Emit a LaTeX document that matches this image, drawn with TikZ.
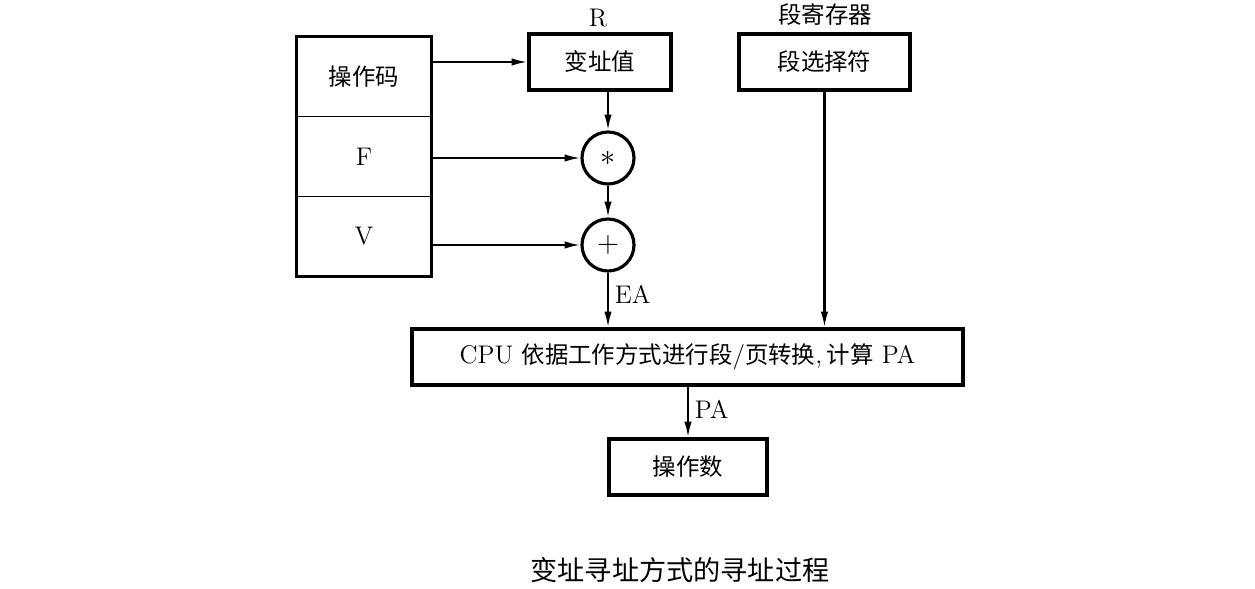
\documentclass[tikz,border=0pt]{standalone}
\usepackage{fontspec}
\newfontfamily\cjk[Scale=0.92]{Noto Sans CJK SC}
\usetikzlibrary{arrows,arrows.meta}

\begin{document}
\begin{tikzpicture}[
box/.style={draw,line width=1.8pt,minimum height=1.12cm,font=\fontsize{14.5}{16}\selectfont},
cell/.style={draw,line width=0.8pt,minimum width=2.68cm,minimum height=1.593cm,font=\fontsize{14.5}{16}\selectfont},
op/.style={draw,circle,line width=1.8pt,minimum size=1.04cm,inner sep=0pt,font=\fontsize{19}{21}\selectfont},
arrowlabel/.style={font=\fontsize{14.5}{16}\selectfont},
arrow/.style={-{Latex[length=9pt,width=4.2pt]},line width=1.2pt} ]

\useasboundingbox (0,0) rectangle (25.1,11.78);

\node[cell] (Op) at (7.28,10.243) {\cjk 操作码};

\node[cell] (F) at (7.28,8.65) {F};

\node[cell] (V) at (7.28,7.057) {V};

\draw[line width=1.8pt] (Op.north west) rectangle (V.south east);

\node[box,minimum width=2.84cm] (Idx) at (12.0,10.54) {\cjk 变址值};

\node[arrowlabel] (RLab) at (11.96,11.42) {R};

\node[box,minimum width=3.42cm] (Sel) at (16.49,10.54) {\cjk 段选择符};

\node[arrowlabel] (SegReg) at (16.5,11.48) {\cjk 段寄存器};

\node[op] (Mul) at (12.16,8.62) {$*$};

\node[op] (Add) at (12.16,6.88) {$+$};

\node[box,minimum width=11.02cm] (Cpu) at (13.75,4.64) {CPU {\cjk 依据工作方式进行段}/{\cjk 页转换},\,{\cjk 计算} PA};

\node[box,minimum width=3.16cm] (Opd) at (13.76,2.44) {\cjk 操作数};

\node[font=\fontsize{16.8}{19}\selectfont\cjk] (Cap) at (13.6,0.38) {变址寻址方式的寻址过程};

\draw[arrow] (Op.east |- Idx) -- (Idx);

\draw[arrow] (F.east |- Mul) -- (Mul);

\draw[arrow] (V.east |- Add) -- (Add);

\draw[arrow] (Idx.south -| Mul) -- (Mul);

\draw[arrow] (Mul) -- (Add);

\draw[arrow] (Add) -- node[right, arrowlabel, pos=0.4] {EA} (Add |- Cpu.north);

\draw[arrow] (Sel) -- (Sel |- Cpu.north);

\draw[arrow] (Cpu.south -| Opd) -- node[right, arrowlabel, pos=0.45] {PA} (Opd);

\end{tikzpicture}
\end{document}
